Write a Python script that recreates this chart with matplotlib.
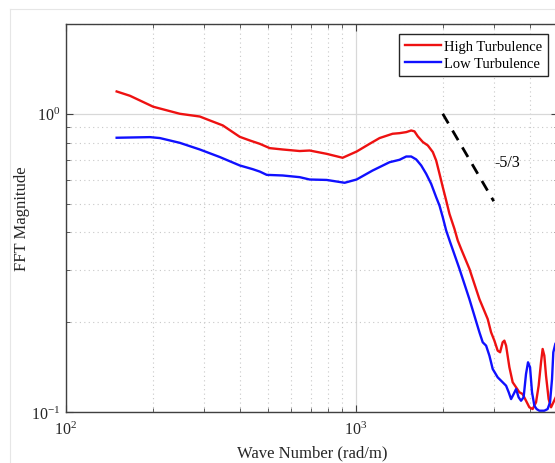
import matplotlib
matplotlib.use('Agg')
import matplotlib.pyplot as plt
from matplotlib.lines import Line2D

plt.rcParams['font.family'] = ['Liberation Serif', 'DejaVu Serif']
plt.rcParams['mathtext.fontset'] = 'custom'
plt.rcParams['mathtext.rm'] = 'Liberation Serif'
plt.rcParams['axes.unicode_minus'] = False

# wave number (rad/m) and FFT magnitude
high_k = [149.6, 166.3, 200.0, 247.2, 289.8, 313.7, 347.9, 398.1, 430.9, 466.8,
          505.2, 560.2, 641.1, 694.0, 794.3, 902.0, 1008, 1118, 1210, 1342,
          1418, 1496, 1556, 1597, 1640, 1707, 1776, 1848, 1898, 1949,
          2000, 2055, 2109, 2195, 2253, 2315, 2472, 2677, 2859, 2937,
          3015, 3095, 3155, 3220, 3264, 3309, 3397, 3487, 3583, 3676,
          3773, 3877, 3981, 4087, 4199, 4287, 4369, 4425, 4485, 4546,
          4641, 4731, 4791, 4973]
high_mag = [1.188, 1.149, 1.056, 1.0, 0.979, 0.950, 0.914, 0.837, 0.814, 0.793,
            0.767, 0.759, 0.750, 0.753, 0.734, 0.712, 0.747, 0.793, 0.829, 0.857,
            0.861, 0.868, 0.879, 0.873, 0.840, 0.804, 0.783, 0.744, 0.697, 0.629,
            0.568, 0.512, 0.462, 0.411, 0.376, 0.352, 0.302, 0.239, 0.205, 0.185,
            0.1735, 0.1606, 0.1586, 0.1713, 0.1735, 0.1669, 0.1413, 0.1258, 0.1210, 0.1165,
            0.1149, 0.1091, 0.1037, 0.1023, 0.1078, 0.1225, 0.1468, 0.1627, 0.1545, 0.1323,
            0.1105, 0.1037, 0.1064, 0.1149]

low_k = [149.6, 194.9, 210.9, 247.2, 289.8, 339.7, 398.1, 441.3, 466.8, 493.3,
         560.2, 641.1, 694.0, 794.3, 916.5, 1008, 1144, 1310, 1418, 1496,
         1556, 1619, 1685, 1753, 1824, 1898, 1949, 2000, 2055, 2121,
         2284, 2472, 2677, 2748, 2823, 2898, 2975, 3095, 3220, 3309,
         3378, 3443, 3515, 3583, 3656, 3727, 3804, 3877, 3940, 4003,
         4067, 4143, 4219, 4310, 4485, 4604, 4693, 4768, 4817, 4894]
low_mag = [0.831, 0.835, 0.829, 0.799, 0.759, 0.716, 0.671, 0.652, 0.640, 0.624,
           0.621, 0.613, 0.602, 0.600, 0.587, 0.602, 0.645, 0.688, 0.701, 0.719,
           0.719, 0.703, 0.671, 0.629, 0.582, 0.525, 0.492, 0.450, 0.406, 0.371,
           0.302, 0.239, 0.185, 0.1713, 0.1669, 0.1545, 0.1394, 0.1307, 0.1258, 0.1225,
           0.1165, 0.1105, 0.1149, 0.1194, 0.1120, 0.1091, 0.1120, 0.1341, 0.1468, 0.1413,
           0.1165, 0.1050, 0.1023, 0.1010, 0.1010, 0.1023, 0.1078, 0.1290, 0.1586, 0.1691]

slope_k = [2000, 3000]
slope_mag = [1.0, 0.509]

fig = plt.figure(figsize=(5.55, 4.64), dpi=100)
# faint page border seen in the top-left corner
fig.add_artist(Line2D([10 / 555, 1], [1 - 10 / 464] * 2, transform=fig.transFigure,
                      color='#e6e6e6', lw=0.8))
fig.add_artist(Line2D([10 / 555] * 2, [0, 1 - 10 / 464], transform=fig.transFigure,
                      color='#e6e6e6', lw=0.8))

ax = fig.add_axes([66 / 555, 51 / 464, 492 / 555, 388 / 464])
ax.set_xscale('log')
ax.set_yscale('log')
ax.set_xlim(100, 5000)
ax.set_ylim(0.1, 2.0)

ax.grid(True, which='major', color='#d8d8d8', lw=0.9, ls='-')
ax.grid(True, which='minor', color='#c8c8c8', lw=0.8, ls=(0, (1, 3)))
ax.set_axisbelow(True)

ax.plot(high_k, high_mag, color='#ee1111', lw=1.7, label='High Turbulence')
ax.plot(low_k, low_mag, color='#1010ff', lw=1.7, label='Low Turbulence')
ax.plot(slope_k, slope_mag, color='black', lw=2.0, ls=(0, (4, 3)))
ax.text(3015, 0.69, '-5/3', fontsize=11.5, va='center', ha='left')

for s in ax.spines.values():
    s.set_color('#404040')
    s.set_linewidth(1.0)

ax.tick_params(which='both', direction='in', top=True, right=True, colors='#404040',
               labelcolor='#262626', labelsize=11.5)
ax.tick_params(which='major', length=5)
ax.tick_params(which='minor', length=3)
ax.tick_params(axis='x', pad=6)
ax.tick_params(axis='y', pad=4)
ax.yaxis.set_minor_formatter(plt.NullFormatter())
ax.xaxis.set_minor_formatter(plt.NullFormatter())

ax.set_xlabel('Wave Number (rad/m)', fontsize=12, color='#262626', labelpad=5)
ax.set_ylabel('FFT Magnitude', fontsize=12, color='#262626', labelpad=1)

leg = ax.legend(loc='upper right', bbox_to_anchor=(548 / 555, 1 - 35 / 464),
                bbox_transform=fig.transFigure, borderaxespad=0, fontsize=10.5,
                fancybox=False, framealpha=1, edgecolor='#262626',
                handlelength=2.5, handletextpad=0.2, borderpad=0.4,
                labelspacing=0.25)
leg.get_frame().set_linewidth(1.0)

fig.savefig('out.png', dpi=100)
